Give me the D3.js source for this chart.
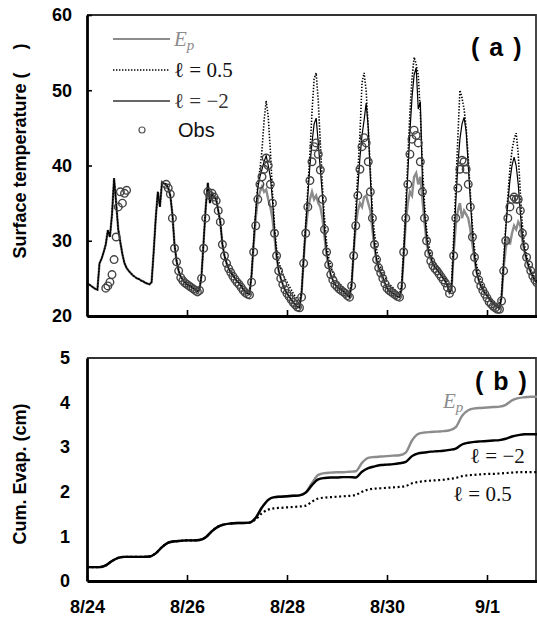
<!DOCTYPE html>
<html>
<head>
<meta charset="utf-8">
<script src="https://cdn.jsdelivr.net/npm/d3@7"></script>
<style>
  body { margin: 0; background: #fff; }
  svg { display: block; }
  text { font-family: "Liberation Sans", Arial, sans-serif; }
  .serif { font-family: "Liberation Serif", "Times New Roman", serif; }
</style>
</head>
<body>
<div id="chart"></div>
<script>
// ---- panel (a): surface temperature, hourly from 8/24 00:00 ----
// days 8/24 - 8/26: all three model runs coincide
const tempEarly = [
  24.4, 24.2, 24.0, 23.8, 23.6, 23.5, 27.0, 27.6, 28.5, 29.5, 31.4, 30.5, 33.5, 38.3, 35.0, 31.5, 29.8, 28.2, 27.0, 26.4, 26.0, 25.7, 25.4, 25.2,
  25.0, 24.9, 24.7, 24.6, 24.4, 24.3, 24.2, 24.5, 28.5, 33.0, 36.5, 34.5, 37.8, 37.6, 37.5, 37.0, 36.0, 33.5, 29.5, 27.3, 26.0, 25.2, 24.8, 24.5,
  24.2, 24.0, 23.9, 23.7, 23.5, 23.3, 23.5, 25.5, 30.0, 34.5, 37.7, 35.0, 36.3, 35.8, 35.5, 34.0, 32.5, 29.5, 28.0, 27.0, 26.3, 25.8, 25.4, 25.0
];
// 8/27 - 9/2 00:00
const tempL2Late = [
  24.6, 24.4, 24.0, 23.5, 23.2, 23.0, 22.9, 25.5, 30.0, 34.0, 37.1, 38.5, 39.5, 40.5, 41.3, 40.0, 38.5, 35.5, 31.5, 28.0, 26.0, 25.0, 24.2, 23.5,
  23.0, 22.6, 22.2, 21.8, 21.5, 21.2, 21.1, 23.0, 27.5, 32.0, 36.0, 40.0, 43.0, 45.5, 46.3, 43.0, 39.5, 36.0, 31.5, 28.5, 26.8, 25.5, 24.8, 24.2,
  23.9, 23.7, 23.5, 23.3, 23.0, 22.8, 22.5, 24.0, 28.5, 33.0, 37.0, 41.0, 44.0, 46.0, 48.3, 45.0, 38.5, 32.5, 29.5, 27.5, 26.5, 25.8, 25.2, 24.4,
  23.7, 23.4, 23.2, 23.0, 22.8, 22.6, 22.5, 23.5, 28.0, 33.5, 39.0, 44.5, 49.0, 52.0, 53.0, 47.5, 48.5, 38.0, 33.8, 30.5, 28.5, 27.8, 27.0, 26.5,
  26.2, 25.8, 25.4, 25.0, 24.6, 24.0, 23.1, 23.5, 29.0, 35.0, 40.0, 43.5, 45.5, 46.4, 44.5, 40.0, 35.5, 31.0, 28.0, 25.8, 24.8, 24.0, 23.5, 23.0,
  22.7, 22.3, 21.9, 21.6, 21.4, 21.2, 21.0, 22.5, 27.0, 31.5, 35.0, 38.0, 40.0, 41.1, 40.0, 37.5, 33.7, 30.5, 28.8, 27.5, 26.6, 25.8, 25.2, 24.7,
  24.4
];
const tempL05Late = [
  24.6, 24.4, 24.0, 23.5, 23.2, 23.0, 22.9, 25.5, 30.0, 34.0, 37.5, 39.5, 42.0, 46.0, 48.6, 46.5, 42.0, 36.5, 32.0, 29.0, 27.3, 26.3, 25.6, 25.0,
  24.5, 24.0, 23.5, 23.0, 22.6, 22.2, 21.9, 23.3, 28.0, 32.5, 37.0, 41.5, 47.0, 51.5, 52.3, 48.5, 43.0, 37.5, 33.0, 29.8, 27.8, 26.6, 25.8, 25.2,
  24.7, 24.4, 24.1, 23.8, 23.5, 23.2, 23.0, 24.5, 29.0, 34.0, 39.0, 44.0, 51.0, 52.3, 50.0, 45.0, 39.5, 34.0, 31.0, 28.8, 27.4, 26.5, 25.8, 25.2,
  24.6, 24.3, 24.0, 23.7, 23.4, 23.1, 22.9, 24.0, 29.0, 35.0, 41.0, 47.0, 51.5, 54.4, 53.5, 52.0, 47.0, 40.0, 35.0, 31.5, 29.5, 28.3, 27.5, 27.0,
  26.7, 26.3, 25.9, 25.5, 25.1, 24.5, 23.5, 24.5, 30.5, 37.0, 43.5, 50.0, 49.0, 47.5, 45.0, 41.0, 36.5, 32.0, 29.0, 26.8, 25.6, 24.7, 24.0, 23.4,
  23.0, 22.6, 22.3, 22.0, 21.8, 21.6, 21.4, 23.0, 27.5, 32.0, 36.0, 39.5, 42.0, 43.5, 44.3, 41.5, 36.5, 32.0, 29.5, 28.0, 27.0, 26.2, 25.5, 25.0,
  24.6
];
const tempEpLate = [
  24.6, 24.4, 24.0, 23.5, 23.2, 23.0, 22.9, 25.5, 29.5, 33.0, 35.5, 36.5, 37.2, 36.5, 36.8, 35.5, 34.5, 33.0, 30.5, 27.8, 26.0, 25.0, 24.2, 23.5,
  23.0, 22.6, 22.2, 21.8, 21.5, 21.2, 21.1, 23.0, 27.5, 31.5, 34.0, 35.5, 36.5, 35.5, 36.0, 35.0, 34.5, 33.0, 30.5, 28.0, 26.5, 25.4, 24.8, 24.2,
  23.9, 23.7, 23.5, 23.3, 23.0, 22.8, 22.5, 24.0, 28.5, 32.0, 34.0, 35.0, 34.5, 35.8, 36.0, 35.0, 34.0, 31.5, 29.0, 27.2, 26.2, 25.5, 24.9, 24.3,
  23.7, 23.4, 23.2, 23.0, 22.8, 22.6, 22.5, 23.5, 28.0, 32.5, 35.0, 36.5, 36.0, 38.5, 39.0, 37.5, 38.5, 35.5, 32.5, 29.8, 28.2, 27.5, 26.8, 26.3,
  26.2, 25.8, 25.4, 25.0, 24.6, 24.0, 23.1, 23.5, 28.5, 32.0, 34.0, 35.0, 33.0, 34.0, 33.5, 33.0, 31.5, 29.5, 27.5, 25.8, 24.8, 24.0, 23.5, 23.0,
  22.7, 22.3, 21.9, 21.6, 21.4, 21.2, 21.0, 22.5, 26.5, 29.0, 30.5, 29.5, 31.0, 32.0, 31.5, 32.5, 32.0, 30.0, 28.5, 27.4, 26.5, 25.8, 25.2, 24.7,
  24.4
];
const N = null;
const obsTemp = [
  N, N, N, N, N, N, N, N, N, 23.7, 24.0, 24.5, 25.5, 27.5, 30.5, 34.5, 36.5, 35.0, 36.3, 36.7, N, N, N, N,
  N, N, N, N, N, N, N, N, N, N, N, N, N, N, 37.5, 37.0, 36.2, 33.0, 29.0, 27.2, 26.0, 25.1, 24.7, 24.4,
  24.2, 24.0, 23.8, 23.6, 23.4, 23.2, 23.4, 25.0, 29.0, 33.0, 36.5, 36.0, 36.3, 35.8, 35.3, 34.0, 32.5, 29.5, 28.0, 27.0, 26.3, 25.8, 25.3, 24.9,
  24.5, 24.2, 23.8, 23.4, 23.1, 22.9, 22.8, 24.5, 28.5, 32.0, 35.5, 37.5, 38.5, 39.5, 41.0, 40.0, 37.5, 35.0, 31.0, 28.0, 26.0, 25.0, 24.2, 23.5,
  23.0, 22.6, 22.2, 21.8, 21.5, 21.2, 21.1, 22.5, 27.0, 31.0, 34.5, 38.0, 40.5, 42.5, 43.0, 41.5, 39.4, 35.5, 31.5, 28.5, 26.8, 25.5, 24.8, 24.2,
  23.9, 23.6, 23.4, 23.2, 23.0, 22.7, 22.5, 24.0, 28.0, 32.0, 36.0, 39.5, 42.5, 43.7, 43.0, 40.5, 36.5, 33.0, 29.5, 27.5, 26.4, 25.7, 25.0, 24.3,
  23.7, 23.4, 23.2, 23.0, 22.8, 22.6, 22.5, 24.0, 28.5, 33.0, 37.5, 41.5, 43.5, 44.7, 44.0, 43.0, 40.5, 36.5, 33.0, 30.0, 28.3, 27.3, 26.7, 26.3,
  26.0, 25.6, 25.2, 24.8, 24.4, 23.8, 23.0, 23.5, 28.0, 33.0, 37.0, 39.5, 40.7, 40.5, 39.5, 37.5, 34.5, 30.5, 27.8, 25.7, 24.8, 24.0, 23.4, 22.9,
  22.4, 21.9, 21.6, 21.3, 21.1, 20.9, 20.9, 22.0, 26.0, 30.0, 33.0, 34.5, 35.5, 35.8, 35.5, 35.5, 34.0, 31.0, 29.2, 27.8, 26.8, 26.0, 25.3, 24.8,
  24.4
];

// ---- panel (b): cumulative evaporation (cm), every 3 h from 8/24 00:00 ----
const evapL2 = [
  0.31, 0.31, 0.31, 0.35, 0.45, 0.52, 0.54, 0.54,
  0.54, 0.54, 0.55, 0.62, 0.76, 0.86, 0.89, 0.90,
  0.91, 0.91, 0.92, 0.98, 1.12, 1.22, 1.27, 1.29,
  1.30, 1.30, 1.31, 1.42, 1.65, 1.82, 1.88, 1.89,
  1.90, 1.91, 1.92, 1.98, 2.15, 2.28, 2.31, 2.32,
  2.32, 2.33, 2.33, 2.32, 2.45, 2.53, 2.57, 2.60,
  2.61, 2.62, 2.64, 2.67, 2.80, 2.86, 2.88, 2.90,
  2.91, 2.92, 2.94, 2.97, 3.06, 3.10, 3.12, 3.13,
  3.14, 3.15, 3.16, 3.19, 3.24, 3.27, 3.29, 3.29,
  3.29
];
const evapEp = [
  0.31, 0.31, 0.31, 0.35, 0.45, 0.52, 0.54, 0.54,
  0.54, 0.54, 0.55, 0.62, 0.76, 0.86, 0.89, 0.90,
  0.91, 0.91, 0.92, 0.98, 1.12, 1.22, 1.27, 1.29,
  1.30, 1.30, 1.31, 1.42, 1.65, 1.82, 1.88, 1.89,
  1.90, 1.91, 1.92, 1.99, 2.20, 2.38, 2.42, 2.43,
  2.44, 2.44, 2.45, 2.46, 2.65, 2.76, 2.78, 2.79,
  2.80, 2.81, 2.82, 2.88, 3.15, 3.30, 3.33, 3.34,
  3.35, 3.36, 3.38, 3.45, 3.70, 3.83, 3.87, 3.88,
  3.89, 3.90, 3.91, 3.95, 4.05, 4.10, 4.12, 4.13,
  4.13
];
const evapL05 = [
  0.31, 0.31, 0.31, 0.35, 0.45, 0.52, 0.54, 0.54,
  0.54, 0.54, 0.55, 0.62, 0.76, 0.86, 0.89, 0.90,
  0.91, 0.91, 0.92, 0.98, 1.12, 1.22, 1.27, 1.29,
  1.30, 1.30, 1.31, 1.38, 1.52, 1.60, 1.63, 1.64,
  1.65, 1.66, 1.67, 1.69, 1.78, 1.85, 1.87, 1.88,
  1.89, 1.90, 1.91, 1.93, 2.00, 2.05, 2.07, 2.08,
  2.09, 2.10, 2.11, 2.13, 2.19, 2.22, 2.24, 2.25,
  2.26, 2.27, 2.29, 2.31, 2.35, 2.37, 2.38, 2.39,
  2.40, 2.40, 2.41, 2.42, 2.43, 2.44, 2.44, 2.44,
  2.44
];

const dayTicks = [0, 2, 4, 6, 8];
const dayLabels = ["8/24", "8/26", "8/28", "8/30", "9/1"];
const tempTicks = [20, 30, 40, 50, 60];
const evapTicks = [0, 1, 2, 3, 4, 5];

const tempL2 = tempEarly.concat(tempL2Late);
const tempL05 = tempEarly.concat(tempL05Late);
const tempEp = tempEarly.concat(tempEpLate);

const width = 537, height = 618;
const left = 87, right = 536;

const svg = d3.select("#chart")
  .append("svg")
    .attr("width", width)
    .attr("height", height);

const x = d3.scaleLinear().domain([0, 9]).range([left, 537]);
const yA = d3.scaleLinear().domain([20, 60]).range([316, 15]);
const yB = d3.scaleLinear().domain([0, 5]).range([581, 358]);

// frames (top / right borders)
function frame(y0, y1) {
  svg.append("path")
    .attr("d", `M${left},${y0}H${right}V${y1}`)
    .attr("fill", "none")
    .attr("stroke", "#333")
    .attr("stroke-width", 1.8);
}
frame(yA.range()[1], yA.range()[0]);
frame(yB.range()[1], yB.range()[0]);

// ---------- panel (a) ----------
const lineA = d3.line()
  .x((d, i) => x(i / 24))
  .y(d => yA(d));

svg.append("path").datum(tempEp)
  .attr("d", lineA)
  .attr("fill", "none")
  .attr("stroke", "#8c8c8c")
  .attr("stroke-width", 2.4);

svg.append("path").datum(tempL05)
  .attr("d", lineA)
  .attr("fill", "none")
  .attr("stroke", "#000")
  .attr("stroke-width", 1.6)
  .attr("stroke-dasharray", "1.4,1.6");

svg.append("path").datum(tempL2)
  .attr("d", lineA)
  .attr("fill", "none")
  .attr("stroke", "#000")
  .attr("stroke-width", 1.2);

const obsPts = obsTemp.map((v, i) => ({t: i / 24, v: v})).filter(d => d.v !== null);
svg.append("g").selectAll("circle")
  .data(obsPts)
  .enter()
  .append("circle")
    .attr("cx", d => x(d.t))
    .attr("cy", d => yA(d.v))
    .attr("r", 3.8)
    .attr("fill", "none")
    .attr("stroke", "#444")
    .attr("stroke-width", 1.4);

// axes (a)
const axA = svg.append("g")
  .attr("transform", `translate(${left},0)`)
  .call(d3.axisLeft(yA).tickValues(tempTicks).tickSizeInner(-5).tickSizeOuter(0).tickPadding(15));
const axAx = svg.append("g")
  .attr("transform", `translate(0,${yA.range()[0]})`)
  .call(d3.axisBottom(x).tickValues(dayTicks.slice(1)).tickSizeInner(-6).tickSizeOuter(0).tickFormat(""));

// ---------- panel (b) ----------
const lineB = d3.line()
  .x((d, i) => x(i / 8))
  .y(d => yB(d))
  .curve(d3.curveMonotoneX);

svg.append("path").datum(evapEp)
  .attr("d", lineB)
  .attr("fill", "none")
  .attr("stroke", "#8c8c8c")
  .attr("stroke-width", 2.4);

svg.append("path").datum(evapL05)
  .attr("d", lineB)
  .attr("fill", "none")
  .attr("stroke", "#000")
  .attr("stroke-width", 2.2)
  .attr("stroke-dasharray", "2,2.6");

svg.append("path").datum(evapL2)
  .attr("d", lineB)
  .attr("fill", "none")
  .attr("stroke", "#000")
  .attr("stroke-width", 2.4);

const axB = svg.append("g")
  .attr("transform", `translate(${left},0)`)
  .call(d3.axisLeft(yB).tickValues(evapTicks).tickFormat(d3.format("d"))
        .tickSizeInner(0).tickSizeOuter(0).tickPadding(17));
const axBx = svg.append("g")
  .attr("transform", `translate(0,${yB.range()[0]})`)
  .call(d3.axisBottom(x).tickValues(dayTicks).tickSizeInner(-6).tickSizeOuter(0)
        .tickFormat((d, i) => dayLabels[i]).tickPadding(19));

// axis styling
[axA, axB, axAx, axBx].forEach((g, k) => {
  g.select(".domain").attr("stroke", "#000").attr("stroke-width", k < 2 ? 2.8 : 3.2);
  g.selectAll(".tick line").attr("stroke", "#000").attr("stroke-width", 1.6);
  g.selectAll(".tick text")
    .attr("fill", "#000")
    .style("font-family", "'Liberation Sans', Arial, sans-serif")
    .style("font-size", "18px")
    .style("font-weight", "bold");
});

// axis titles
svg.append("text")
  .attr("transform", "translate(26,151) rotate(-90)")
  .attr("text-anchor", "middle")
  .style("font-size", "18px")
  .style("font-weight", "bold")
  .text("Surface temperature (\u2003 )");

svg.append("text")
  .attr("transform", "translate(26,474) rotate(-90)")
  .attr("text-anchor", "middle")
  .style("font-size", "18px")
  .style("font-weight", "bold")
  .text("Cum. Evap. (cm)");

// panel tags, wide-spaced like the original
function panelTag(xx, yy, letter) {
  const t = svg.append("text")
    .attr("x", xx).attr("y", yy)
    .style("font-size", "25px")
    .style("font-weight", "bold");
  t.append("tspan").text("(");
  t.append("tspan").attr("dx", 10).text(letter);
  t.append("tspan").attr("dx", 10).text(")");
}
panelTag(471, 56, "a");
panelTag(475, 390, "b");

// legend (a)
const legend = svg.append("g");
const legRows = [
  {y: 39, stroke: "#8c8c8c", dash: null, w: 2.2},
  {y: 70, stroke: "#000", dash: "1.4,1.6", w: 1.6},
  {y: 101, stroke: "#666", dash: null, w: 2}
];
legend.selectAll("line")
  .data(legRows)
  .enter()
  .append("line")
    .attr("x1", 113).attr("x2", 170)
    .attr("y1", d => d.y).attr("y2", d => d.y)
    .attr("stroke", d => d.stroke)
    .attr("stroke-width", d => d.w)
    .attr("stroke-dasharray", d => d.dash);
legend.append("circle")
  .attr("cx", 142).attr("cy", 130).attr("r", 3)
  .attr("fill", "none").attr("stroke", "#555").attr("stroke-width", 1.2);

function epLabel(g, xx, yy, color) {
  const t = g.append("text")
    .attr("class", "serif")
    .attr("x", xx).attr("y", yy)
    .attr("fill", color)
    .style("font-size", "21px")
    .style("font-style", "italic");
  t.append("tspan").text("E");
  t.append("tspan").attr("dy", 4).style("font-size", "15px").text("p");
}
epLabel(legend, 174, 46, "#8c8c8c");
legend.append("text").attr("class", "serif")
  .attr("x", 174).attr("y", 77)
  .attr("fill", "#111")
  .style("font-size", "21px")
  .text("\u2113 = 0.5");
legend.append("text").attr("class", "serif")
  .attr("x", 174).attr("y", 108)
  .attr("fill", "#333")
  .style("font-size", "21px")
  .text("\u2113 = \u22122");
legend.append("text")
  .attr("x", 178).attr("y", 137)
  .attr("fill", "#111")
  .style("font-size", "20px")
  .text("Obs");

// curve labels (b)
epLabel(svg, 443, 408, "#8c8c8c");
svg.append("text").attr("class", "serif")
  .attr("x", 470).attr("y", 463)
  .attr("fill", "#111")
  .style("font-size", "21px")
  .text("\u2113 = \u22122");
svg.append("text").attr("class", "serif")
  .attr("x", 453).attr("y", 501)
  .attr("fill", "#111")
  .style("font-size", "21px")
  .text("\u2113 = 0.5");
</script>
</body>
</html>
